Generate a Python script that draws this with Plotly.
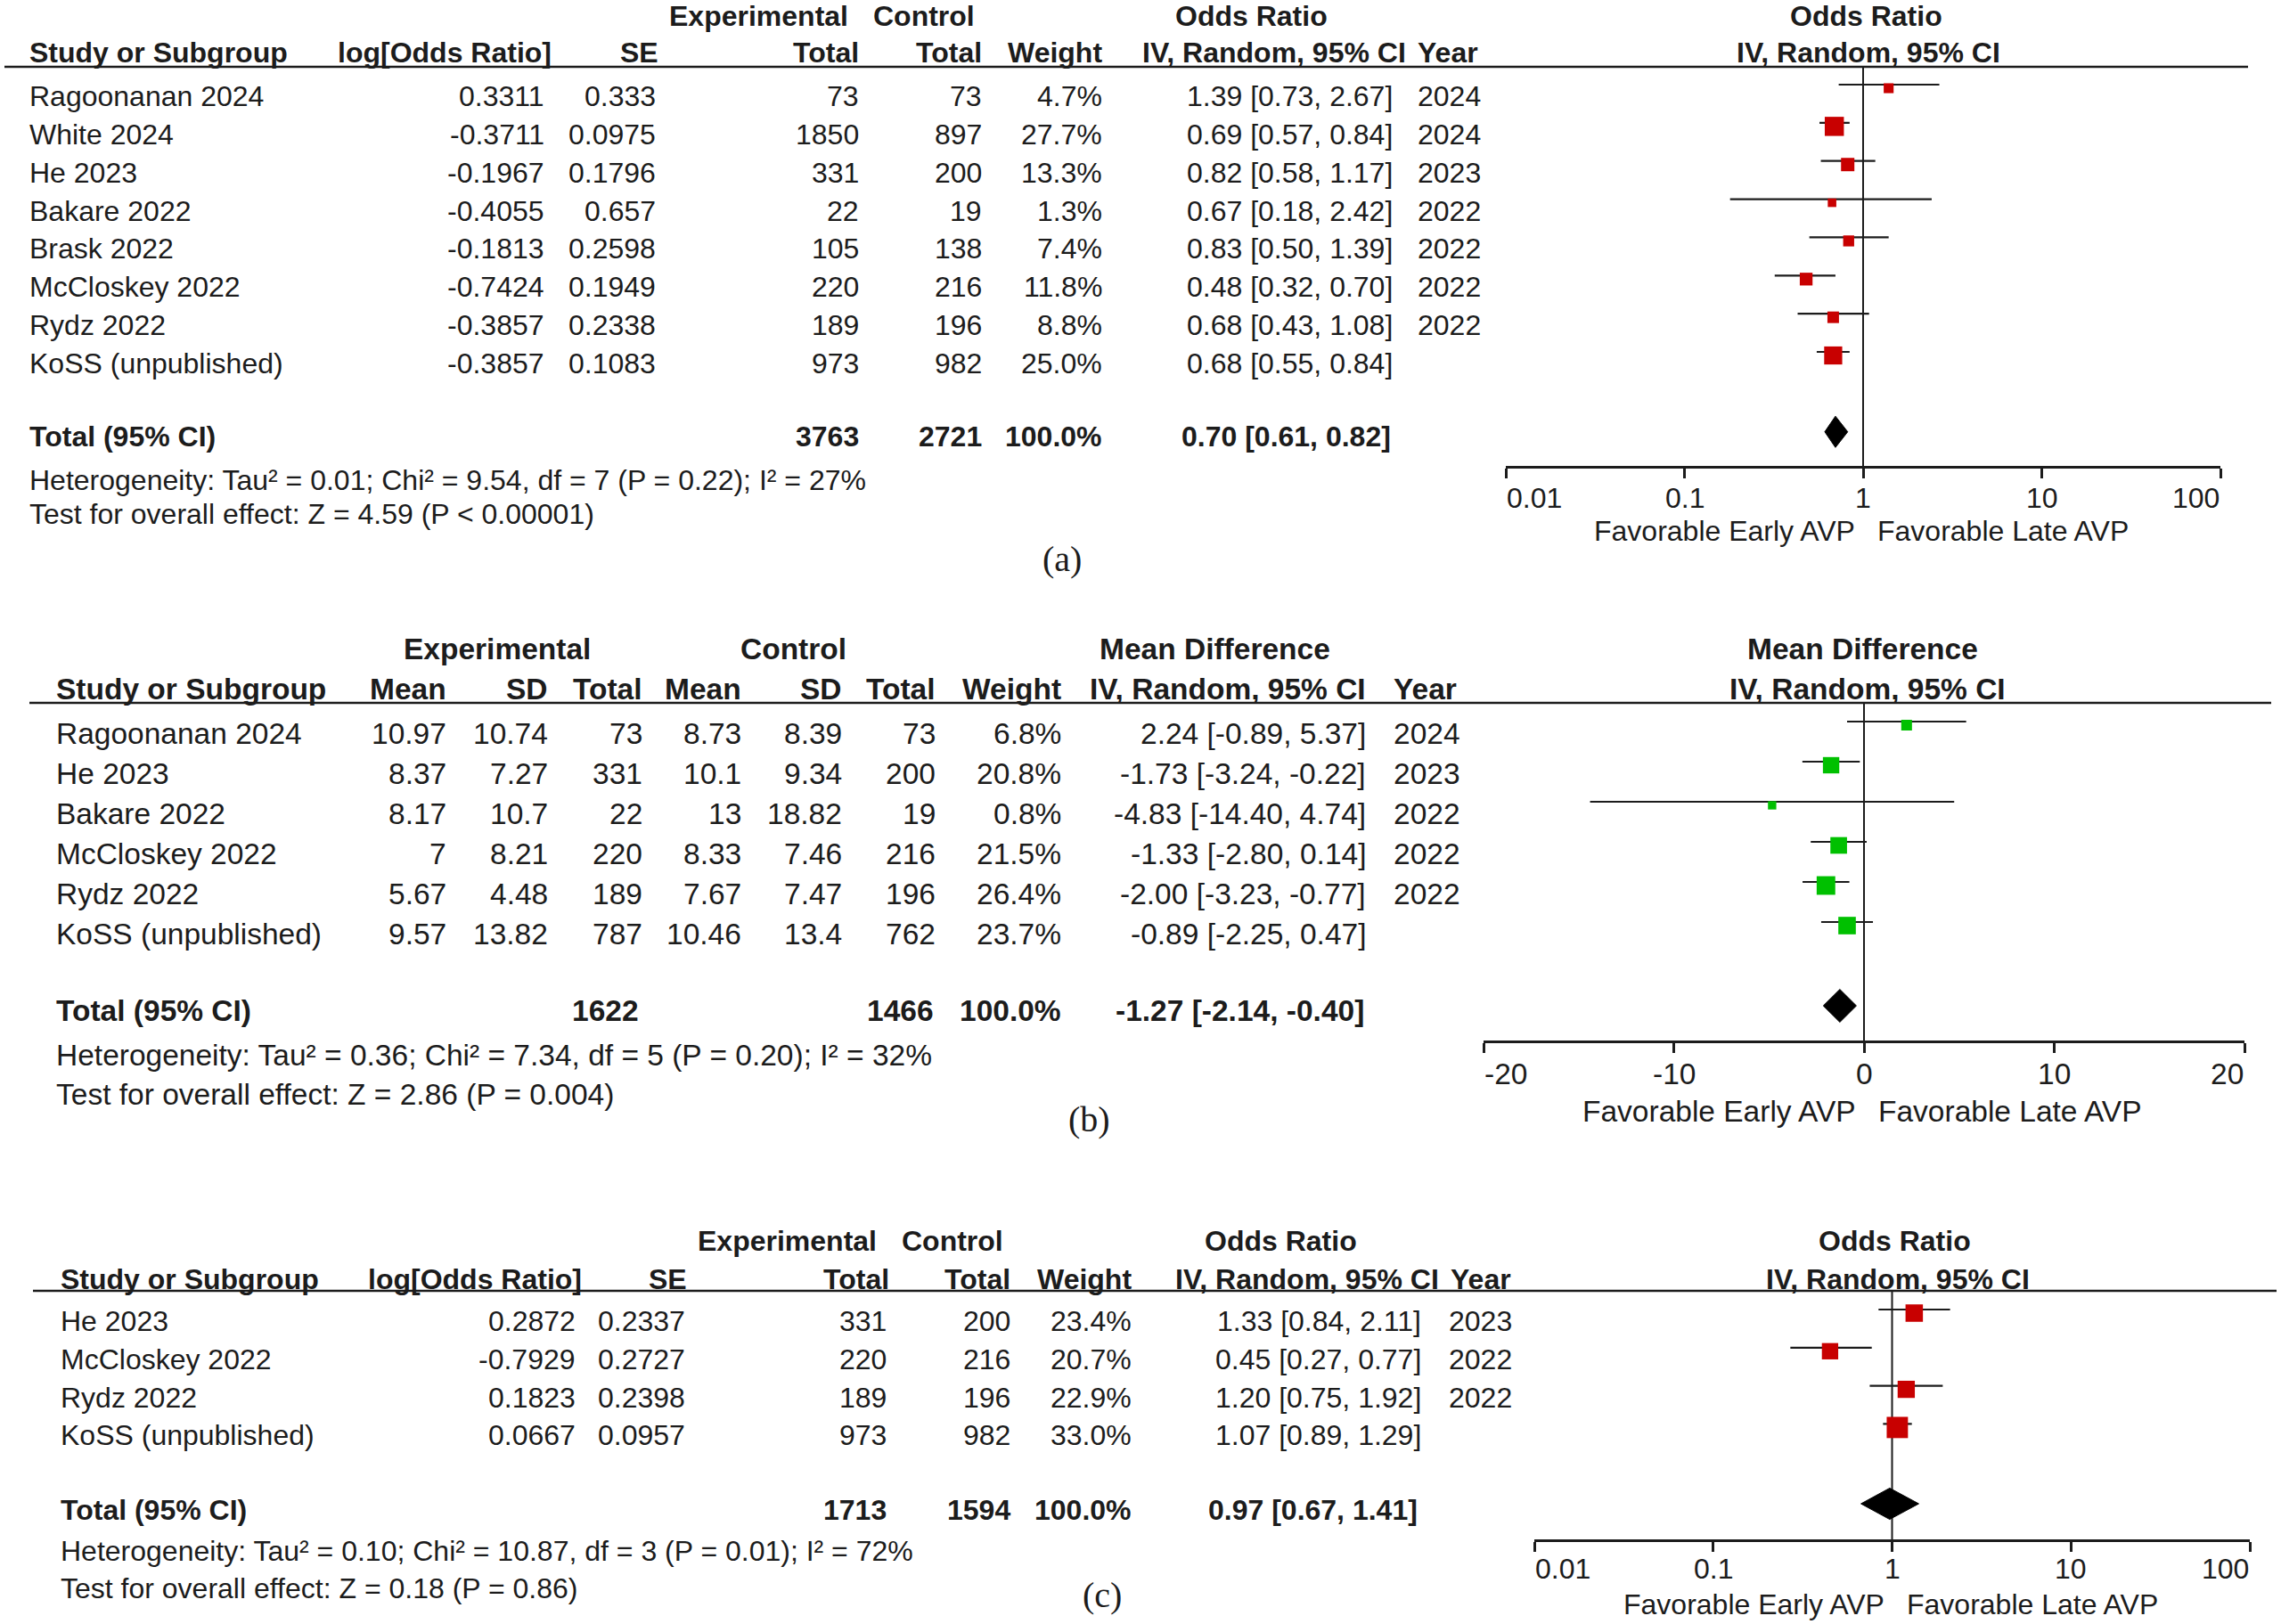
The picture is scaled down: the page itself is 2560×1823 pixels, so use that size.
import math
import plotly.graph_objects as go

W, H = 2560, 1823
SANS = "Liberation Sans, Arial, sans-serif"
SERIF = "Liberation Serif, Times New Roman, serif"
INK = "#1c1c1c"
RED = "#c80000"
GREEN = "#00c000"

# ---- (a) time to AVP, odds ratio
studies_a = ["Ragoonanan 2024", "White 2024", "He 2023", "Bakare 2022", "Brask 2022",
             "McCloskey 2022", "Rydz 2022", "KoSS (unpublished)"]
log_or_a = [0.3311, -0.3711, -0.1967, -0.4055, -0.1813, -0.7424, -0.3857, -0.3857]
se_a = [0.333, 0.0975, 0.1796, 0.657, 0.2598, 0.1949, 0.2338, 0.1083]
exp_n_a = [73, 1850, 331, 22, 105, 220, 189, 973]
ctl_n_a = [73, 897, 200, 19, 138, 216, 196, 982]
weight_a = [4.7, 27.7, 13.3, 1.3, 7.4, 11.8, 8.8, 25.0]
or_a = [1.39, 0.69, 0.82, 0.67, 0.83, 0.48, 0.68, 0.68]
lo_a = [0.73, 0.57, 0.58, 0.18, 0.50, 0.32, 0.43, 0.55]
hi_a = [2.67, 0.84, 1.17, 2.42, 1.39, 0.70, 1.08, 0.84]
year_a = ["2024", "2024", "2023", "2022", "2022", "2022", "2022", ""]
total_a = dict(exp=3763, ctl=2721, est=0.70, lo=0.61, hi=0.82)
het_a = "Heterogeneity: Tau² = 0.01; Chi² = 9.54, df = 7 (P = 0.22); I² = 27%"
test_a = "Test for overall effect: Z = 4.59 (P < 0.00001)"

# ---- (b) mean difference
studies_b = ["Ragoonanan 2024", "He 2023", "Bakare 2022", "McCloskey 2022", "Rydz 2022",
             "KoSS (unpublished)"]
exp_mean_b = [10.97, 8.37, 8.17, 7, 5.67, 9.57]
exp_sd_b = [10.74, 7.27, 10.7, 8.21, 4.48, 13.82]
exp_n_b = [73, 331, 22, 220, 189, 787]
ctl_mean_b = [8.73, 10.1, 13, 8.33, 7.67, 10.46]
ctl_sd_b = [8.39, 9.34, 18.82, 7.46, 7.47, 13.4]
ctl_n_b = [73, 200, 19, 216, 196, 762]
weight_b = [6.8, 20.8, 0.8, 21.5, 26.4, 23.7]
md_b = [2.24, -1.73, -4.83, -1.33, -2.00, -0.89]
lo_b = [-0.89, -3.24, -14.40, -2.80, -3.23, -2.25]
hi_b = [5.37, -0.22, 4.74, 0.14, -0.77, 0.47]
year_b = ["2024", "2023", "2022", "2022", "2022", ""]
total_b = dict(exp=1622, ctl=1466, est=-1.27, lo=-2.14, hi=-0.40)
het_b = "Heterogeneity: Tau² = 0.36; Chi² = 7.34, df = 5 (P = 0.20); I² = 32%"
test_b = "Test for overall effect: Z = 2.86 (P = 0.004)"

# ---- (c) odds ratio
studies_c = ["He 2023", "McCloskey 2022", "Rydz 2022", "KoSS (unpublished)"]
log_or_c = [0.2872, -0.7929, 0.1823, 0.0667]
se_c = [0.2337, 0.2727, 0.2398, 0.0957]
exp_n_c = [331, 220, 189, 973]
ctl_n_c = [200, 216, 196, 982]
weight_c = [23.4, 20.7, 22.9, 33.0]
or_c = [1.33, 0.45, 1.20, 1.07]
lo_c = [0.84, 0.27, 0.75, 0.89]
hi_c = [2.11, 0.77, 1.92, 1.29]
year_c = ["2023", "2022", "2022", ""]
total_c = dict(exp=1713, ctl=1594, est=0.97, lo=0.67, hi=1.41)
het_c = "Heterogeneity: Tau² = 0.10; Chi² = 10.87, df = 3 (P = 0.01); I² = 72%"
test_c = "Test for overall effect: Z = 0.18 (P = 0.86)"

or_ticks = [0.01, 0.1, 1, 10, 100]
or_tick_text = ["0.01", "0.1", "1", "10", "100"]
md_ticks = [-20, -10, 0, 10, 20]
md_tick_text = ["-20", "-10", "0", "10", "20"]

fig = go.Figure()
annotations = []
shapes = []
layout = {}


def px(x):
    return x / W


def py(y):
    return 1 - y / H


def label(x, y, text, anchor="left", size=32, bold=False, family=SANS):
    annotations.append(dict(
        xref="paper", yref="paper", x=px(x), y=py(y),
        text="<b>%s</b>" % text if bold else text,
        xanchor=anchor, yanchor="middle", showarrow=False, borderpad=0,
        font=dict(family=family, size=size, color=INK)))


def fmt(v):
    return f"{v:g}"


def ci(e, l, h):
    return f"{e:.2f} [{l:.2f}, {h:.2f}]"


def table(y0, step, columns, size):
    # columns: (values, x, anchor)
    for values, x, anchor in columns:
        for i, v in enumerate(values):
            label(x, y0 + step * i, v, anchor, size)


def forest(k, est, lo, hi, weight, tot, color, geo, log, ticks, tick_text):
    xa = "x" if k == 1 else f"x{k}"
    ya = "y" if k == 1 else f"y{k}"
    n = len(est)
    row0 = geo["row0"] - 9
    step = geo["step"]
    y_top = (geo["top"] - row0) / step
    y_bot = (geo["bottom"] - row0) / step
    centre = 1 if log else 0
    lift = 4 / step  # whiskers sit a little above the box centres

    # line of no effect
    fig.add_trace(go.Scatter(x=[centre, centre], y=[y_top, y_bot], mode="lines",
                             line=dict(color=INK, width=2), xaxis=xa, yaxis=ya,
                             hoverinfo="skip"))
    xs, ys = [], []
    for i in range(n):
        xs += [lo[i], hi[i], None]
        ys += [i - lift, i - lift, None]
    fig.add_trace(go.Scatter(x=xs, y=ys, mode="lines", line=dict(color=INK, width=2.2),
                             xaxis=xa, yaxis=ya, hoverinfo="skip"))
    fig.add_trace(go.Scatter(
        x=est, y=list(range(n)), mode="markers", xaxis=xa, yaxis=ya,
        marker=dict(symbol="square", color=color, opacity=1,
                    size=[9 + 0.45 * w for w in weight], line=dict(width=0))))
    yt = n + 1
    fig.add_trace(go.Scatter(
        x=[tot["lo"], tot["est"], tot["hi"], tot["est"], tot["lo"]],
        y=[yt, yt - 0.41, yt, yt + 0.41, yt], mode="lines", fill="toself",
        fillcolor="black", line=dict(color="black", width=1), xaxis=xa, yaxis=ya))

    rng = [-2, 2] if log else [ticks[0], ticks[-1]]
    common = dict(type="log" if log else "linear", range=rng, tickvals=ticks,
                  showticklabels=False, showgrid=False, zeroline=False,
                  ticklen=11, tickwidth=2.5, tickcolor=INK)
    layout["xaxis" if k == 1 else f"xaxis{k}"] = dict(
        domain=[px(geo["x0"]), px(geo["x1"])], anchor=ya, ticks="outside",
        showline=True, linewidth=3, linecolor=INK, **common)
    layout[f"xaxis{k + 3}"] = dict(overlaying=xa, anchor=ya, ticks="inside",
                                   showline=False, **common)
    layout["yaxis" if k == 1 else f"yaxis{k}"] = dict(
        domain=[py(geo["bottom"]), py(geo["top"])], range=[y_bot, y_top],
        visible=False, anchor=xa)

    size = geo["size"]
    for j, (v, t) in enumerate(zip(ticks, tick_text)):
        anchor = "left" if j == 0 else ("right" if j == len(ticks) - 1 else "center")
        annotations.append(dict(
            xref=xa, yref="paper", x=math.log10(v) if log else v, y=py(geo["tick_y"]),
            text=t, xanchor=anchor, yanchor="middle", showarrow=False, borderpad=0,
            font=dict(family=SANS, size=size, color=INK)))
    # centre of the scale (log10(1) = 0 on the log panels, 0 on the MD panel)
    for t, anchor, shift in [("Favorable Early AVP", "right", -8),
                             ("Favorable Late AVP", "left", 15)]:
        annotations.append(dict(
            xref=xa, yref="paper", x=0, y=py(geo["fav_y"]), text=t, xanchor=anchor,
            xshift=shift, yanchor="middle", showarrow=False, borderpad=0,
            font=dict(family=SANS, size=size, color=INK)))


# ======== panel (a)
fa = 32
for t, x in [("Experimental", 851), ("Control", 1037), ("Odds Ratio", 1404), ("Odds Ratio", 2094)]:
    label(x, 18, t, "center", fa, True)
for t, x, anc in [("Study or Subgroup", 32, "left"), ("log[Odds Ratio]", 620, "right"),
                  ("SE", 740, "right"), ("Total", 965, "right"), ("Total", 1103, "right"),
                  ("Weight", 1238, "right"), ("IV, Random, 95% CI", 1579, "right"),
                  ("Year", 1590, "left"), ("IV, Random, 95% CI", 2097, "center")]:
    label(x, 59, t, anc, fa, True)
shapes.append(dict(type="line", xref="paper", yref="paper", x0=px(5), x1=px(2523),
                   y0=py(75), y1=py(75), line=dict(color=INK, width=2.5)))
table(108, 42.86, [
    (studies_a, 32, "left"),
    ([fmt(v) for v in log_or_a], 612, "right"),
    ([fmt(v) for v in se_a], 737, "right"),
    ([str(v) for v in exp_n_a], 965, "right"),
    ([str(v) for v in ctl_n_a], 1103, "right"),
    ([f"{w:.1f}%" for w in weight_a], 1238, "right"),
    ([ci(e, l, h) for e, l, h in zip(or_a, lo_a, hi_a)], 1564, "right"),
    (year_a, 1590, "left"),
], fa)
for t, x, anc in [("Total (95% CI)", 32, "left"), (str(total_a["exp"]), 965, "right"),
                  (str(total_a["ctl"]), 1103, "right"), ("100.0%", 1238, "right"),
                  (ci(total_a["est"], total_a["lo"], total_a["hi"]), 1562, "right")]:
    label(x, 490, t, anc, fa, True)
label(32, 539, het_a, "left", fa)
label(32, 577, test_a, "left", fa)
label(1192, 628, "(a)", "center", 40, family=SERIF)
forest(1, or_a, lo_a, hi_a, weight_a, total_a, RED,
       dict(x0=1690, x1=2492, top=75, bottom=523, row0=108, step=42.86,
            tick_y=559, fav_y=596, size=fa), True, or_ticks, or_tick_text)

# ======== panel (b)
fb = 33.5
for t, x in [("Experimental", 558), ("Control", 890), ("Mean Difference", 1363),
             ("Mean Difference", 2090)]:
    label(x, 728, t, "center", fb, True)
for t, x, anc in [("Study or Subgroup", 62, "left"), ("Mean", 502, "right"), ("SD", 616, "right"),
                  ("Total", 722, "right"), ("Mean", 833, "right"), ("SD", 946, "right"),
                  ("Total", 1051, "right"), ("Weight", 1192, "right"),
                  ("IV, Random, 95% CI", 1534, "right"), ("Year", 1563, "left"),
                  ("IV, Random, 95% CI", 2096, "center")]:
    label(x, 774, t, anc, fb, True)
shapes.append(dict(type="line", xref="paper", yref="paper", x0=px(33), x1=px(2549),
                   y0=py(789), y1=py(789), line=dict(color=INK, width=2.5)))
table(823, 45, [
    (studies_b, 62, "left"),
    ([fmt(v) for v in exp_mean_b], 502, "right"),
    ([fmt(v) for v in exp_sd_b], 616, "right"),
    ([str(v) for v in exp_n_b], 722, "right"),
    ([fmt(v) for v in ctl_mean_b], 833, "right"),
    ([fmt(v) for v in ctl_sd_b], 946, "right"),
    ([str(v) for v in ctl_n_b], 1051, "right"),
    ([f"{w:.1f}%" for w in weight_b], 1192, "right"),
    ([ci(e, l, h) for e, l, h in zip(md_b, lo_b, hi_b)], 1534, "right"),
    (year_b, 1563, "left"),
], fb)
for t, x, anc in [("Total (95% CI)", 62, "left"), (str(total_b["exp"]), 718, "right"),
                  (str(total_b["ctl"]), 1049, "right"), ("100.0%", 1192, "right"),
                  (ci(total_b["est"], total_b["lo"], total_b["hi"]), 1532, "right")]:
    label(x, 1134, t, anc, fb, True)
label(62, 1184, het_b, "left", fb)
label(62, 1228, test_b, "left", fb)
label(1222, 1256, "(b)", "center", 40, family=SERIF)
forest(2, md_b, lo_b, hi_b, weight_b, total_b, GREEN,
       dict(x0=1665, x1=2519, top=789, bottom=1168, row0=823, step=45,
            tick_y=1205, fav_y=1247, size=fb), False, md_ticks, md_tick_text)

# ======== panel (c)
fc = 32
for t, x in [("Experimental", 883), ("Control", 1069), ("Odds Ratio", 1437), ("Odds Ratio", 2126)]:
    label(x, 1393, t, "center", fc, True)
for t, x, anc in [("Study or Subgroup", 67, "left"), ("log[Odds Ratio]", 654, "right"),
                  ("SE", 772, "right"), ("Total", 999, "right"), ("Total", 1135, "right"),
                  ("Weight", 1271, "right"), ("IV, Random, 95% CI", 1616, "right"),
                  ("Year", 1627, "left"), ("IV, Random, 95% CI", 2130, "center")]:
    label(x, 1436, t, anc, fc, True)
shapes.append(dict(type="line", xref="paper", yref="paper", x0=px(37), x1=px(2555),
                   y0=py(1449), y1=py(1449), line=dict(color=INK, width=2.5)))
table(1483, 42.8, [
    (studies_c, 67, "left"),
    ([fmt(v) for v in log_or_c], 647, "right"),
    ([fmt(v) for v in se_c], 770, "right"),
    ([str(v) for v in exp_n_c], 996, "right"),
    ([str(v) for v in ctl_n_c], 1135, "right"),
    ([f"{w:.1f}%" for w in weight_c], 1271, "right"),
    ([ci(e, l, h) for e, l, h in zip(or_c, lo_c, hi_c)], 1596, "right"),
    (year_c, 1625, "left"),
], fc)
for t, x, anc in [("Total (95% CI)", 67, "left"), (str(total_c["exp"]), 996, "right"),
                  (str(total_c["ctl"]), 1135, "right"), ("100.0%", 1271, "right"),
                  (ci(total_c["est"], total_c["lo"], total_c["hi"]), 1592, "right")]:
    label(x, 1695, t, anc, fc, True)
label(67, 1741, het_c, "left", fc)
label(67, 1783, test_c, "left", fc)
label(1237, 1790, "(c)", "center", 40, family=SERIF)
forest(3, or_c, lo_c, hi_c, weight_c, total_c, RED,
       dict(x0=1722, x1=2525, top=1449, bottom=1728, row0=1483, step=42.8,
            tick_y=1761, fav_y=1801, size=fc), True, or_ticks, or_tick_text)

fig.update_layout(
    width=W, height=H, margin=dict(l=0, r=0, t=0, b=0),
    paper_bgcolor="white", plot_bgcolor="white", showlegend=False,
    annotations=annotations, shapes=shapes, **layout)
# the page body has a default 8px margin; drop it so the figure fills the window
fig.write_html("out.html", config={"displayModeBar": False},
               post_script="document.body.style.margin='0px';")
